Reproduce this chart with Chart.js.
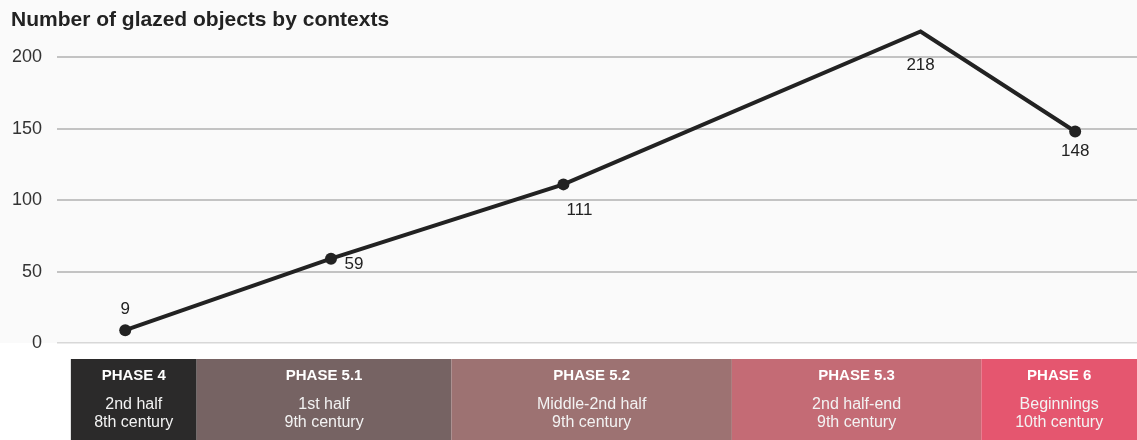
<!DOCTYPE html>
<html lang="en">
<head>
    <meta charset="UTF-8">
    <title>Number of glazed objects by contexts</title>
    <script src="https://cdn.jsdelivr.net/npm/chart.js"></script>
    <style>
        html, body { margin: 0; background: #ffffff; overflow: hidden; }
        #wrap { position: relative; width: 1137px; height: 440px; }
        canvas { display: block; }
    </style>
</head>
<body>
    <div id="wrap"><canvas id="grafico"></canvas></div>

    <script>
        // data
        const phaseNames = ['PHASE 4', 'PHASE 5.1', 'PHASE 5.2', 'PHASE 5.3', 'PHASE 6'];
        const phasePeriods = [
            ['2nd half', '8th century'],
            ['1st half', '9th century'],
            ['Middle-2nd half', '9th century'],
            ['2nd half-end', '9th century'],
            ['Beginnings', '10th century']
        ];
        // position of each phase on the timeline (0-100)
        const phaseStart = [0, 11.8, 35.7, 62.0, 85.4];
        const phaseEnd = [11.8, 35.7, 62.0, 85.4, 100];
        // where each context sits on the timeline, and its count
        const contextPos = [5.1, 24.4, 46.2, 79.7, 94.2];
        const glazedCounts = [9, 59, 111, 218, 148];
        const yTicks = [0, 50, 100, 150, 200];

        const FONT = "'Liberation Sans', Arial, Helvetica, sans-serif";
        const phaseColors = ['#2b2a2a', '#766363', '#9d7272', '#c46b75', '#e5566f'];
        // label offset from its point (px)
        const labelOffsets = [[0, -21], [23, 6], [16, 26], [0, 34], [0, 20]];

        // light gray plot background, white under the zero line
        const fondo = {
            id: 'fondo',
            beforeDraw(chart) {
                const { ctx, chartArea, width, height } = chart;
                ctx.save();
                ctx.fillStyle = '#fafafa';
                ctx.fillRect(0, 0, width, chartArea.bottom);
                ctx.fillStyle = '#ffffff';
                ctx.fillRect(0, chartArea.bottom, width, height - chartArea.bottom);
                ctx.restore();
            }
        };

        // phase bands under the axis
        const fasi = {
            id: 'fasi',
            afterDraw(chart) {
                const { ctx, chartArea, height } = chart;
                const x = chart.scales.x;
                const top = chartArea.bottom + 16;
                ctx.save();
                phaseNames.forEach((name, i) => {
                    const x0 = x.getPixelForValue(phaseStart[i]);
                    const x1 = x.getPixelForValue(phaseEnd[i]);
                    ctx.fillStyle = phaseColors[i];
                    ctx.fillRect(x0, top, x1 - x0, height - top);
                    const cx = (x0 + x1) / 2;
                    ctx.textAlign = 'center';
                    ctx.textBaseline = 'middle';
                    ctx.fillStyle = '#ffffff';
                    ctx.font = 'bold 15px ' + FONT;
                    ctx.fillText(name, cx, top + 17);
                    ctx.fillStyle = '#f3f3f3';
                    ctx.font = '16px ' + FONT;
                    ctx.fillText(phasePeriods[i][0], cx, top + 46);
                    ctx.fillText(phasePeriods[i][1], cx, top + 64);
                });
                ctx.restore();
            }
        };

        // value labels next to the points
        const etichette = {
            id: 'etichette',
            afterDatasetsDraw(chart) {
                const { ctx } = chart;
                const meta = chart.getDatasetMeta(0);
                ctx.save();
                ctx.font = '17px ' + FONT;
                ctx.fillStyle = '#222222';
                ctx.textAlign = 'center';
                ctx.textBaseline = 'middle';
                meta.data.forEach((pt, i) => {
                    ctx.fillText(String(glazedCounts[i]), pt.x + labelOffsets[i][0], pt.y + labelOffsets[i][1]);
                });
                ctx.restore();
            }
        };

        new Chart(document.getElementById('grafico'), {
            type: 'line',
            data: {
                datasets: [{
                    data: contextPos.map((p, i) => ({ x: p, y: glazedCounts[i] })),
                    borderColor: '#222222',
                    borderWidth: 4,
                    pointRadius: 6,
                    pointBackgroundColor: '#222222',
                    pointBorderWidth: 0,
                    tension: 0,
                    clip: false
                }]
            },
            options: {
                responsive: true,
                maintainAspectRatio: false,
                animation: false,
                layout: { autoPadding: false, padding: { left: 11, right: 0, top: 0, bottom: 97 } },
                plugins: {
                    legend: { display: false },
                    tooltip: { enabled: false },
                    title: {
                        display: true,
                        text: 'Number of glazed objects by contexts',
                        align: 'start',
                        color: '#222222',
                        font: { family: FONT, size: 21, weight: 'bold' },
                        padding: { top: 8, bottom: 24 }
                    }
                },
                scales: {
                    x: { type: 'linear', min: -1.3, max: 100, display: false },
                    y: {
                        min: 0,
                        max: 200,
                        afterBuildTicks: s => { s.ticks = yTicks.map(v => ({ value: v })); },
                        afterFit: s => { s.width = 46; },
                        border: { display: false },
                        grid: {
                            drawTicks: false,
                            color: c => c.tick.value === 0 ? '#d8d8d8' : '#c3c3c3',
                            lineWidth: c => c.tick.value === 0 ? 1.5 : 2
                        },
                        ticks: {
                            padding: 15,
                            color: '#333333',
                            font: { family: FONT, size: 18 }
                        }
                    }
                }
            },
            plugins: [fondo, fasi, etichette]
        });
    </script>
</body>
</html>
